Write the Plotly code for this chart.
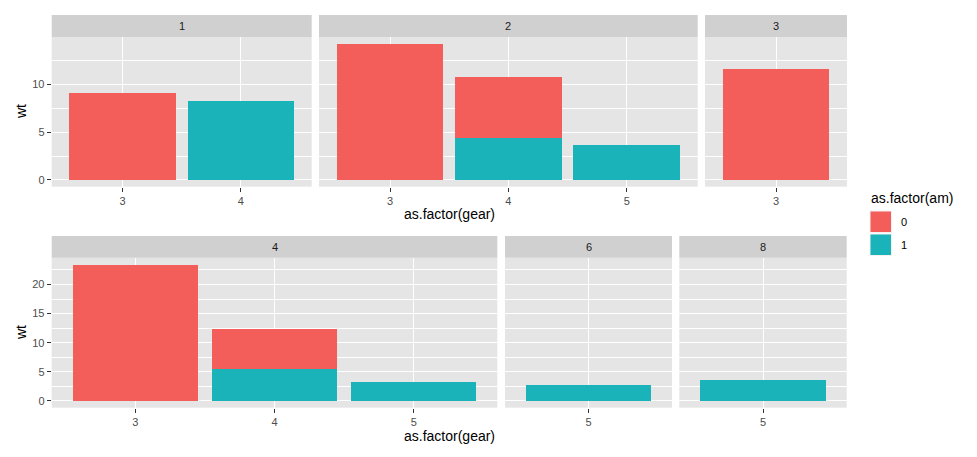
import plotly.graph_objects as go

# ---- data (sum of wt by carb facet, gear, am) ----
facets = ["1", "2", "3", "4", "6", "8"]
facet_gears = [["3", "4"], ["3", "4", "5"], ["3"], ["3", "4", "5"], ["5"], ["5"]]
wt_am0 = [[9.14, None], [14.24, 6.34, None], [11.58], [23.429, 6.88, None], [None], [None]]
wt_am1 = [[None, 8.29], [None, 4.395, 3.653], [None], [None, 5.495, 3.17], [2.77], [3.57]]
am_levels = ["0", "1"]
row_of_facet = [0, 0, 0, 1, 1, 1]

# ---- styling ----
W, H = 977, 457
RED = "#F35E5A"
TEAL = "#19B3B9"
PANEL = "#E5E5E5"
STRIP = "#D0D0D0"
FONT = "Liberation Sans"

# pixel layout of panels
panel_x = [(51.7, 311.7), (319.0, 697.7), (705.0, 847.0),
           (51.7, 497.3), (505.0, 672.0), (679.3, 846.7)]
row_area = [(37.0, 186.7), (257.7, 407.7)]
row_strip = [(15.0, 37.0), (236.0, 257.7)]
y_major = [5, 5]

def px_x(a):
    return a / W

def px_y(a):
    return 1 - a / H

fig = go.Figure()

# y ranges per row from data (ggplot 5% expansion)
row_max = [0.0, 0.0]
for i in range(len(facets)):
    for a0, a1 in zip(wt_am0[i], wt_am1[i]):
        tot = (a0 or 0) + (a1 or 0)
        row_max[row_of_facet[i]] = max(row_max[row_of_facet[i]], tot)
row_range = [[-0.05 * m, 1.05 * m] for m in row_max]

shapes = []
annotations = []
first_axis_of_row = {0: 1, 1: 4}

for i, f in enumerate(facets):
    k = i + 1
    r = row_of_facet[i]
    xa = "x" if k == 1 else f"x{k}"
    ya = "y" if k == 1 else f"y{k}"
    fig.add_trace(go.Bar(x=facet_gears[i], y=wt_am1[i], name=am_levels[1],
                         marker=dict(color=TEAL, line=dict(width=0)), width=0.9,
                         xaxis=xa, yaxis=ya, showlegend=False, hoverinfo="x+y"))
    fig.add_trace(go.Bar(x=facet_gears[i], y=wt_am0[i], name=am_levels[0],
                         marker=dict(color=RED, line=dict(width=0)), width=0.9,
                         xaxis=xa, yaxis=ya, showlegend=False, hoverinfo="x+y"))
    x0, x1 = panel_x[i]
    top, bot = row_area[r]
    n = len(facet_gears[i])
    first = first_axis_of_row[r] == k
    xkey = "xaxis" if k == 1 else f"xaxis{k}"
    ykey = "yaxis" if k == 1 else f"yaxis{k}"
    fig.layout[xkey] = dict(
        domain=[px_x(x0), px_x(x1)], anchor=ya, type="category",
        categoryorder="array", categoryarray=facet_gears[i],
        range=[-0.6, n - 0.4], showgrid=True, gridcolor="white", gridwidth=1.3,
        ticks="outside", ticklen=4, tickwidth=1, tickcolor="#333333",
        tickfont=dict(family=FONT, size=11, color="#4D4D4D"),
        showline=False, zeroline=False, fixedrange=True)
    ydict = dict(
        domain=[px_y(bot), px_y(top)], anchor=xa, range=row_range[r],
        dtick=y_major[r], tick0=0, showgrid=True, gridcolor="white", gridwidth=1.3,
        minor=dict(dtick=y_major[r] / 2, tick0=0, showgrid=True, gridcolor="white",
                   gridwidth=0.6, ticks=""),
        zeroline=False, showline=False, fixedrange=True,
        tickfont=dict(family=FONT, size=11, color="#4D4D4D"))
    if first:
        ydict.update(ticks="outside", ticklen=4, tickwidth=1, tickcolor="#333333",
                     showticklabels=True)
    else:
        first_k = first_axis_of_row[r]
        ydict.update(ticks="", showticklabels=False,
                     matches="y" if first_k == 1 else f"y{first_k}")
    fig.layout[ykey] = ydict

    # strip
    s_top, s_bot = row_strip[r]
    shapes.append(dict(type="rect", xref="paper", yref="paper",
                       x0=px_x(x0), x1=px_x(x1), y0=px_y(s_bot), y1=px_y(s_top),
                       fillcolor=STRIP, line=dict(width=0)))
    annotations.append(dict(text=f, xref="paper", yref="paper",
                            x=px_x((x0 + x1) / 2), y=px_y((s_top + s_bot) / 2),
                            showarrow=False, xanchor="center", yanchor="middle",
                            font=dict(family=FONT, size=11, color="#1A1A1A")))

# axis titles
for r, (xt_y, yt_y) in enumerate([(213.5, 112.0), (435.5, 333.0)]):
    annotations.append(dict(text="as.factor(gear)", xref="paper", yref="paper",
                            x=px_x(449.3), y=px_y(xt_y), showarrow=False,
                            xanchor="center", yanchor="middle",
                            font=dict(family=FONT, size=14, color="#000000")))
    annotations.append(dict(text="wt", xref="paper", yref="paper",
                            x=px_x(21.0), y=px_y(yt_y), showarrow=False, textangle=-90,
                            xanchor="center", yanchor="middle",
                            font=dict(family=FONT, size=14, color="#000000")))

# legend (manual, ggplot style)
annotations.append(dict(text="as.factor(am)", xref="paper", yref="paper",
                        x=px_x(868.5), y=px_y(197.5), showarrow=False,
                        xanchor="left", yanchor="middle",
                        font=dict(family=FONT, size=14, color="#000000")))
for j, (lvl, col) in enumerate(zip(am_levels, [RED, TEAL])):
    ky0 = 211.0 + j * 23.0
    shapes.append(dict(type="rect", xref="paper", yref="paper",
                       x0=px_x(870.0), x1=px_x(891.5), y0=px_y(ky0 + 21.5), y1=px_y(ky0),
                       fillcolor=col, line=dict(width=1, color="#F2F2F2")))
    annotations.append(dict(text=lvl, xref="paper", yref="paper",
                            x=px_x(899.0), y=px_y(ky0 + 11.0), showarrow=False,
                            xanchor="left", yanchor="middle",
                            font=dict(family=FONT, size=11, color="#000000")))

fig.update_layout(
    width=W, height=H, margin=dict(l=0, r=0, t=0, b=0),
    paper_bgcolor="white", plot_bgcolor=PANEL,
    barmode="stack", showlegend=False,
    shapes=shapes, annotations=annotations,
    font=dict(family=FONT),
)

fig.write_html("out.html", config={"displayModeBar": False},
               post_script="document.body.style.margin='0px';document.body.style.overflow='hidden';")
